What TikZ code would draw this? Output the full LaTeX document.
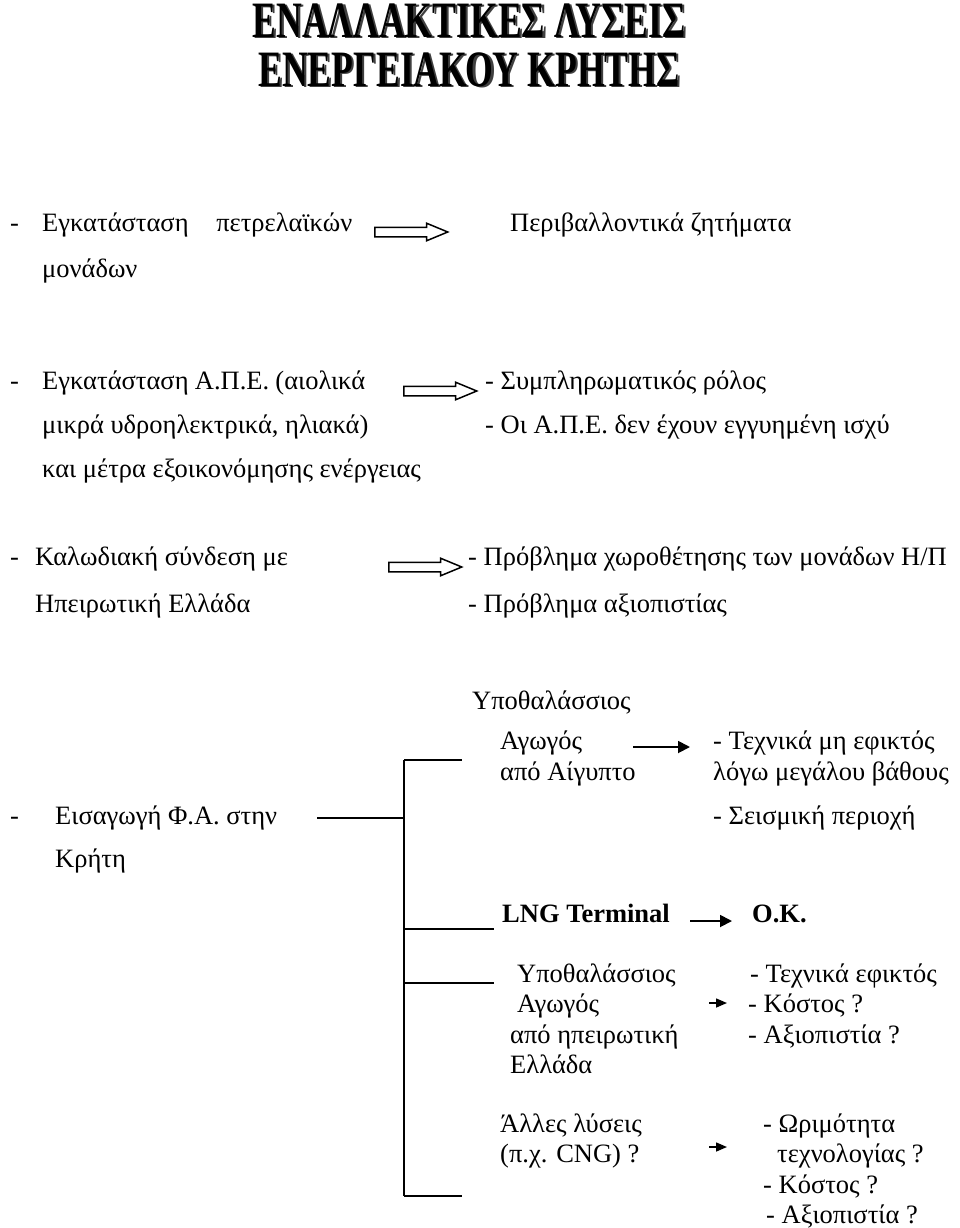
\documentclass[tikz,border=0pt]{standalone}
\usepackage{fontspec}
\setmainfont{Liberation Serif}
\usepackage{xcolor}
\usetikzlibrary{arrows.meta, shapes.arrows, positioning}

\newcommand{\bodysize}{\fontsize{26.5}{44}\selectfont}
\newcommand{\tightsize}{\fontsize{26.5}{30.5}\selectfont}
\newcommand{\titletext}[1]{\scalebox{0.7}[1]{\makebox[0pt][l]{\kern3pt\raisebox{-1pt}{\textcolor{black!75}{#1}}}#1}}

\begin{document}
\begin{tikzpicture}[
    x=1pt, y=-1pt,
    txt/.style      = {anchor=base west, inner sep=0pt, align=left, font=\bodysize},
    tight/.style    = {txt, font=\tightsize},
    title/.style    = {anchor=base, inner sep=0pt, font=\fontsize{51}{51}\selectfont\bfseries},
    hollow/.style   = {single arrow, draw, line width=1.5pt, inner xsep=0pt, inner ysep=4pt,
                       minimum height=73pt, anchor=tail,
                       single arrow head extend=4pt, single arrow tip angle=45},
    arrow/.style    = {-{Triangle[length=12pt, width=12pt]}, line width=1.8pt},
    smallarrow/.style = {-{Triangle[length=11pt, width=9pt]}, line width=1.5pt},
    bracket/.style  = {line width=1.6pt},
  ]
  \useasboundingbox (0,0) rectangle (960,1228);

  % title
  \node[title] (title1) at (469,38) {\titletext{ΕΝΑΛΛΑΚΤΙΚΕΣ ΛΥΣΕΙΣ}};
  \node[title] (title2) at (469,87) {\titletext{ΕΝΕΡΓΕΙΑΚΟΥ ΚΡΗΤΗΣ}};

  % oil units (base = last line)
  \node[txt] (dash1) at (10,231) {-};
  \node[txt, font=\fontsize{26.5}{46}\selectfont] (oil) at (42,277)
       {\makebox[310pt][s]{Εγκατάσταση πετρελαϊκών}\\μονάδων};
  \node[hollow] (harrow1) at (374,232) {};
  \node[txt] (env)   at (510,231) {Περιβαλλοντικά ζητήματα};

  % renewables
  \node[txt] (dash2) at (10,389) {-};
  \node[txt] (res)   at (42,477) {\makebox[323pt][s]{Εγκατάσταση Α.Π.Ε. (αιολικά}\\
                                   μικρά υδροηλεκτρικά, ηλιακά)\\
                                   και μέτρα εξοικονόμησης ενέργειας};
  \node[hollow] (harrow2) at (403,391) {};
  \node[txt] (resout) at (485,433) {- Συμπληρωματικός ρόλος\\
                                    - Οι Α.Π.Ε. δεν έχουν εγγυημένη ισχύ};

  % cable link
  \node[txt] (dash3) at (10,565) {-};
  \node[txt, font=\fontsize{26.5}{47}\selectfont] (cable) at (35,612)
       {Καλωδιακή σύνδεση με\\Ηπειρωτική Ελλάδα};
  \node[hollow] (harrow3) at (388,567) {};
  \node[txt, font=\fontsize{26.5}{47}\selectfont] (cableout) at (468,612)
       {- Πρόβλημα χωροθέτησης των μονάδων Η/Π\\- Πρόβλημα αξιοπιστίας};

  % natural gas import
  \node[txt] (dash4) at (10,824) {-};
  \node[txt, font=\fontsize{26.5}{43}\selectfont] (gas) at (55,867) {Εισαγωγή Φ.Α. στην\\Κρήτη};

  \node[txt] (egypt0) at (472,709) {Υποθαλάσσιος};
  \node[tight] (egypt) at (500,780) {Αγωγός\\από Αίγυπτο};
  \node[tight] (egyptout) at (713,780) {- Τεχνικά μη εφικτός\\λόγω μεγάλου βάθους};
  \node[txt] (seism) at (713,824) {- Σεισμική περιοχή};

  \node[txt, font=\bodysize\bfseries] (lng)   at (502,922) {LNG Terminal};
  \node[txt, font=\bodysize\bfseries] (lngok) at (752,922) {O.K.};

  \node[tight] (main)    at (510,1073.5) {\hspace*{7pt}Υποθαλάσσιος\\\hspace*{7pt}Αγωγός\\από ηπειρωτική\\Ελλάδα};
  \node[tight] (mainout) at (748,1043) {\hspace*{2pt}- Τεχνικά εφικτός\\- Κόστος ?\\- Αξιοπιστία ?};

  \node[tight] (other)    at (500,1162.5) {Άλλες λύσεις\\(π.χ. CNG) ?};
  \node[tight] (otherout) at (763,1223.5) {- Ωριμότητα\\\hspace*{14pt}τεχνολογίας ?\\- Κόστος ?\\\hspace*{3pt}- Αξιοπιστία ?};

  % arrows
  \coordinate (a1s) at (633,747);  \coordinate (a1e) at (690,747);
  \coordinate (a2s) at (690,921);  \coordinate (a2e) at (732,921);
  \coordinate (a3s) at (709,1003); \coordinate (a3e) at (727,1003);
  \coordinate (a4s) at (709,1147); \coordinate (a4e) at (727,1147);
  \draw[arrow] (a1s) -- (a1e);
  \draw[arrow] (a2s) -- (a2e);
  \draw[smallarrow] (a3s) -- (a3e);
  \draw[smallarrow] (a4s) -- (a4e);

  % bracket
  \coordinate (stub)    at (317,818);
  \coordinate (stemtop) at (404,760);
  \coordinate (stemmid) at (404,818);
  \coordinate (stembot) at (404,1196);
  \draw[bracket] (stemtop) -- (stembot);
  \draw[bracket] (stub) -- (stemmid);
  \draw[bracket] (stemtop) -- ++(58,0);
  \draw[bracket] (stembot) -- ++(58,0);
  \draw[bracket] (404,929) -- ++(90,0);
  \draw[bracket] (404,983) -- ++(90,0);
\end{tikzpicture}
\end{document}
